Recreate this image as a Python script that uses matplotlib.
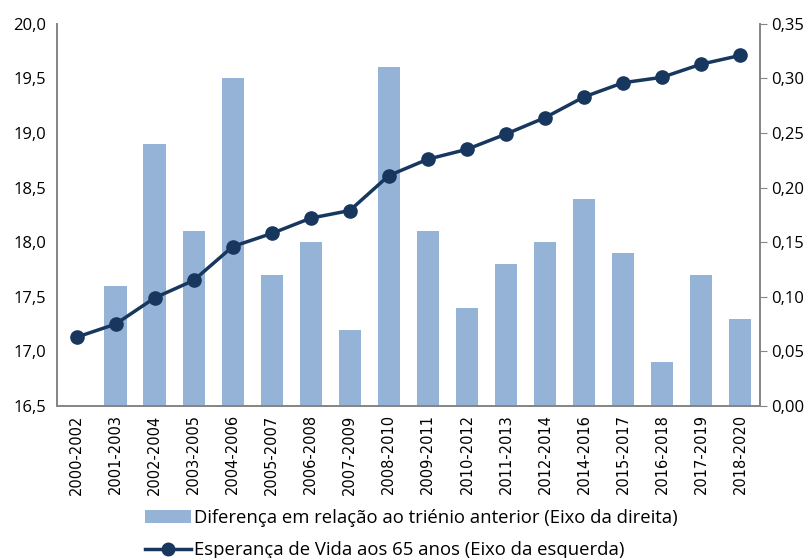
import matplotlib
matplotlib.use("Agg")
import matplotlib.pyplot as plt
from matplotlib.ticker import FuncFormatter, MultipleLocator

categories = ["2000-2002", "2001-2003", "2002-2004", "2003-2005", "2004-2006", "2005-2007",
              "2006-2008", "2007-2009", "2008-2010", "2009-2011", "2010-2012", "2011-2013",
              "2012-2014", "2014-2016", "2015-2017", "2016-2018", "2017-2019", "2018-2020"]
diferenca = [None, 0.11, 0.24, 0.16, 0.30, 0.12, 0.15, 0.07, 0.31, 0.16, 0.09, 0.13,
             0.15, 0.19, 0.14, 0.04, 0.12, 0.08]
esperanca = [17.13, 17.25, 17.49, 17.65, 17.96, 18.08, 18.22, 18.29, 18.61, 18.76, 18.85,
             18.99, 19.14, 19.33, 19.46, 19.51, 19.63, 19.71]

bar_color = "#95B3D7"
line_color = "#17375E"

fig = plt.figure(figsize=(8.09, 5.58), dpi=100)
ax = fig.add_axes([0.0705, 0.2724, 0.8685, 0.685])
ax2 = ax.twinx()

x = list(range(len(categories)))
bx = [i for i, v in zip(x, diferenca) if v is not None]
bv = [v for v in diferenca if v is not None]
bars = ax2.bar(bx, bv, width=0.57, color=bar_color, zorder=1,
               label="Diferença em relação ao triénio anterior (Eixo da direita)")
ax2.set_ylim(0, 0.35)
ax2.yaxis.set_major_locator(MultipleLocator(0.05))
ax2.yaxis.set_major_formatter(FuncFormatter(lambda v, p: f"{v:.2f}".replace(".", ",")))

ax.set_zorder(ax2.get_zorder() + 1)
ax.patch.set_visible(False)
line, = ax.plot(x, esperanca, color=line_color, lw=2.5, marker="o", markersize=9.5,
                label="Esperança de Vida aos 65 anos (Eixo da esquerda)")
ax.set_ylim(16.5, 20.0)
ax.yaxis.set_major_locator(MultipleLocator(0.5))
ax.yaxis.set_major_formatter(FuncFormatter(lambda v, p: f"{v:.1f}".replace(".", ",")))
ax.set_xlim(-0.5, len(categories) - 0.5)
ax.set_xticks(x)
ax.set_xticklabels(categories, rotation=90, fontsize=10.5, family="DejaVu Sans")

for a in (ax, ax2):
    a.spines["top"].set_visible(False)
    for s in ("left", "right", "bottom"):
        a.spines[s].set_color("#868686")
        a.spines[s].set_linewidth(1.3)
ax.tick_params(axis="y", length=0, labelsize=12, pad=8)
ax.tick_params(axis="x", length=0, pad=6)
ax2.tick_params(axis="y", length=5, color="#868686", labelsize=12, pad=3)
for lab in ax.get_yticklabels() + ax2.get_yticklabels():
    lab.set_family("Open Sans")

fig.legend(handles=[bars, line], loc="center", bbox_to_anchor=(0.508, 0.0425), ncol=1,
           frameon=False, prop={"family": "Open Sans", "size": 13.3}, handlelength=2.5,
           handletextpad=0.15, labelspacing=0.75, markerscale=0.95)

fig.savefig("out.png", dpi=100)
